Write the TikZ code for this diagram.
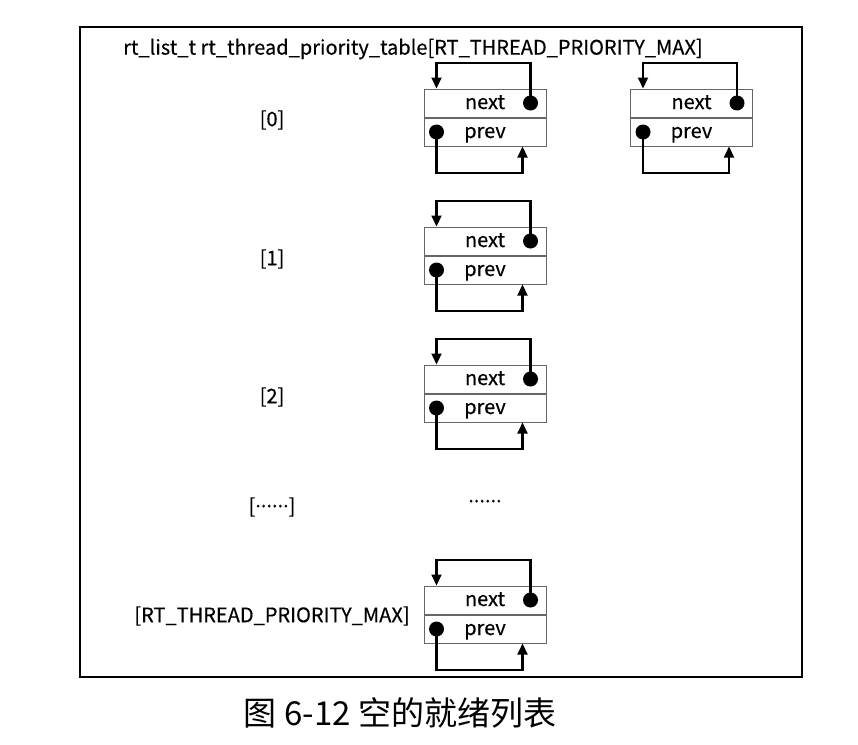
\documentclass[tikz,border=0pt]{standalone}
\usepackage{fontspec}
\setmainfont{Noto Sans CJK SC}[FakeBold=0.4]
\newfontfamily\cjk{Noto Sans CJK SC}
\usetikzlibrary{arrows.meta,calc}
\newcommand{\middots}{\raisebox{0.3em}{......}}
\begin{document}
\begin{tikzpicture}[x=1pt,y=-1pt,
  cell/.style={draw=black!60,line width=1pt,minimum width=122pt,minimum height=28pt,inner sep=0pt,text height=14pt,text depth=2pt,font=\fontsize{20}{22}\selectfont},
  dot/.style={circle,fill=black,inner sep=0pt,minimum size=15pt},
  conn/.style={line width=2.1pt,-{Triangle[length=11pt,width=10pt]}},
  lbl/.style={font=\fontsize{20}{22}\selectfont,inner sep=0pt}]
\useasboundingbox (0,0) rectangle (858,744);
\draw[line width=1.8pt] (80,27) rectangle (802,677);
\node[lbl,anchor=west] (title) at (123,49) {rt\_list\_t rt\_thread\_priority\_table[RT\_THREAD\_PRIORITY\_MAX]};
\foreach \i/\cx/\cy in {0/485/103, 1/485/241, 2/485/379, 3/485/600, 4/691.5/103}{
  \node[cell] (n\i) at (\cx,\cy) {next};
  \node[cell,anchor=north] (p\i) at (n\i.south) {prev};
  \node[dot] (nd\i) at ($(n\i.east)+(-16,0)$) {};
  \node[dot] (pd\i) at ($(p\i.west)+(13,0)$) {};
  \draw[conn] (nd\i.center) -- ++(0,-40) -| (n\i.north -| pd\i.center);
  \coordinate (pa\i) at ($(p\i.south east)+(-24,0)$);
  \draw[conn] (pd\i.center) -- ++(0,41) -| (pa\i);
}
\node[lbl] (l0) at (272,120) {[0]};
\node[lbl] (l1) at (272,259) {[1]};
\node[lbl] (l2) at (272,397) {[2]};
\node[lbl] (l3) at (272,507) {[\middots]};
\node[lbl] (d3) at (485,504) {\middots};
\node[lbl] (l4) at (272,616) {[RT\_THREAD\_PRIORITY\_MAX]};
\node[font=\cjk\fontsize{33}{36}\selectfont,inner sep=0pt] (cap) at (400,713) {图 6-12 空的就绪列表};
\end{tikzpicture}
\end{document}
